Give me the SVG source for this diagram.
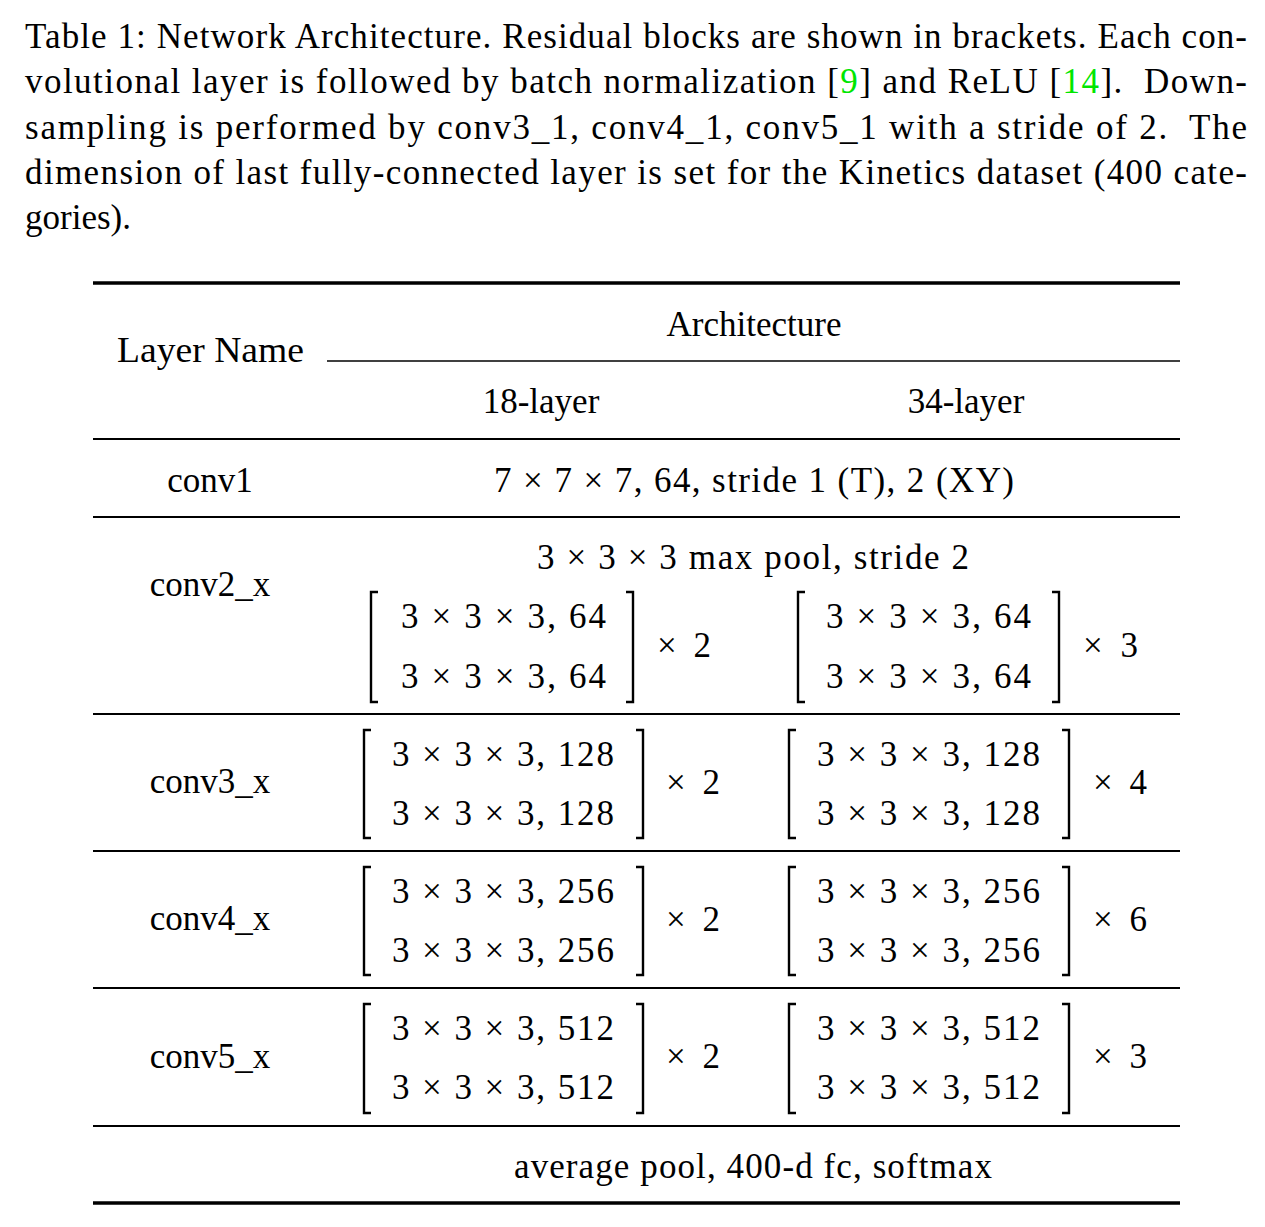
<svg xmlns="http://www.w3.org/2000/svg" width="1265" height="1227" viewBox="0 0 1265 1227">
<style>
text{font-family:"Liberation Serif","Times New Roman",serif;fill:#000;}
.cap{font-size:35px;}
.t{font-size:35px;}
.m{font-size:35px;}
.c{text-anchor:middle;}
.cite{fill:#00e600;}
.rule{stroke:#000;}
.br{fill:none;stroke:#000;stroke-width:2.4;}
</style>
<rect width="1265" height="1227" fill="#fff"/>
<g id="caption">
<text class="cap" x="25" y="48" textLength="1222" lengthAdjust="spacing">Table 1: Network Architecture. Residual blocks are shown in brackets. Each con-</text>
<text class="cap" x="25" y="93" textLength="1222" lengthAdjust="spacing">volutional layer is followed by batch normalization [<tspan class="cite">9</tspan>] and ReLU [<tspan class="cite">14</tspan>]. <tspan dx="10">Down-</tspan></text>
<text class="cap" x="25" y="139" textLength="1222" lengthAdjust="spacing">sampling is performed by conv3_1, conv4_1, conv5_1 with a stride of 2. <tspan dx="10">The</tspan></text>
<text class="cap" x="25" y="184" textLength="1222" lengthAdjust="spacing">dimension of last fully-connected layer is set for the Kinetics dataset (400 cate-</text>
<text class="cap" x="25" y="229">gories).</text>
</g>
<g id="rules">
<line class="rule" x1="93" y1="283" x2="1180" y2="283" stroke-width="3.5"/>
<line class="rule" x1="327" y1="361" x2="1180" y2="361" stroke-width="1.3"/>
<line class="rule" x1="93" y1="439" x2="1180" y2="439" stroke-width="2"/>
<line class="rule" x1="93" y1="517" x2="1180" y2="517" stroke-width="2"/>
<line class="rule" x1="93" y1="714" x2="1180" y2="714" stroke-width="2"/>
<line class="rule" x1="93" y1="851" x2="1180" y2="851" stroke-width="2"/>
<line class="rule" x1="93" y1="988" x2="1180" y2="988" stroke-width="2"/>
<line class="rule" x1="93" y1="1126" x2="1180" y2="1126" stroke-width="2"/>
<line class="rule" x1="93" y1="1203" x2="1180" y2="1203" stroke-width="3.5"/>
</g>
<g id="header">
<text class="t" x="117" y="362" textLength="187" lengthAdjust="spacingAndGlyphs">Layer Name</text>
<text class="t c" x="754" y="336">Architecture</text>
<text class="t c" x="541" y="413">18-layer</text>
<text class="t c" x="966" y="413">34-layer</text>
</g>
<g id="conv1">
<text class="t c" x="210" y="492">conv1</text>
<text class="m" x="494" y="492" textLength="520" lengthAdjust="spacing">7 × 7 × 7, 64, stride 1 (T), 2 (XY)</text>
</g>
<g id="conv2_x">
<text class="t c" x="210" y="596">conv2_x</text>
<text class="m" x="537" y="569" textLength="432" lengthAdjust="spacing">3 × 3 × 3 max pool, stride 2</text>
<path class="br" d="M378,592 H371 V702 H378 M626,592 H633 V702 H626"/>
<text class="m" x="401" y="628" textLength="205" lengthAdjust="spacing">3 × 3 × 3, 64</text>
<text class="m" x="401" y="688" textLength="205" lengthAdjust="spacing">3 × 3 × 3, 64</text>
<text class="m" x="657" y="657" textLength="54" lengthAdjust="spacing">× 2</text>
<path class="br" d="M805,592 H798 V702 H805 M1052,592 H1059 V702 H1052"/>
<text class="m" x="826" y="628" textLength="205" lengthAdjust="spacing">3 × 3 × 3, 64</text>
<text class="m" x="826" y="688" textLength="205" lengthAdjust="spacing">3 × 3 × 3, 64</text>
<text class="m" x="1083" y="657" textLength="55" lengthAdjust="spacing">× 3</text>
</g>
<g id="conv3_x">
<text class="t c" x="210" y="793">conv3_x</text>
<path class="br" d="M371,730 H364 V838 H371 M636,730 H643 V838 H636"/>
<text class="m" x="392" y="766" textLength="222" lengthAdjust="spacing">3 × 3 × 3, 128</text>
<text class="m" x="392" y="825" textLength="222" lengthAdjust="spacing">3 × 3 × 3, 128</text>
<text class="m" x="666" y="794" textLength="54" lengthAdjust="spacing">× 2</text>
<path class="br" d="M796,730 H789 V838 H796 M1062,730 H1069 V838 H1062"/>
<text class="m" x="817" y="766" textLength="223" lengthAdjust="spacing">3 × 3 × 3, 128</text>
<text class="m" x="817" y="825" textLength="223" lengthAdjust="spacing">3 × 3 × 3, 128</text>
<text class="m" x="1093" y="794" textLength="54" lengthAdjust="spacing">× 4</text>
</g>
<g id="conv4_x">
<text class="t c" x="210" y="930">conv4_x</text>
<path class="br" d="M371,867 H364 V975 H371 M636,867 H643 V975 H636"/>
<text class="m" x="392" y="903" textLength="222" lengthAdjust="spacing">3 × 3 × 3, 256</text>
<text class="m" x="392" y="962" textLength="222" lengthAdjust="spacing">3 × 3 × 3, 256</text>
<text class="m" x="666" y="931" textLength="54" lengthAdjust="spacing">× 2</text>
<path class="br" d="M796,867 H789 V975 H796 M1062,867 H1069 V975 H1062"/>
<text class="m" x="817" y="903" textLength="223" lengthAdjust="spacing">3 × 3 × 3, 256</text>
<text class="m" x="817" y="962" textLength="223" lengthAdjust="spacing">3 × 3 × 3, 256</text>
<text class="m" x="1093" y="931" textLength="54" lengthAdjust="spacing">× 6</text>
</g>
<g id="conv5_x">
<text class="t c" x="210" y="1068">conv5_x</text>
<path class="br" d="M371,1004 H364 V1113 H371 M636,1004 H643 V1113 H636"/>
<text class="m" x="392" y="1040" textLength="222" lengthAdjust="spacing">3 × 3 × 3, 512</text>
<text class="m" x="392" y="1099" textLength="222" lengthAdjust="spacing">3 × 3 × 3, 512</text>
<text class="m" x="666" y="1068" textLength="54" lengthAdjust="spacing">× 2</text>
<path class="br" d="M796,1004 H789 V1113 H796 M1062,1004 H1069 V1113 H1062"/>
<text class="m" x="817" y="1040" textLength="223" lengthAdjust="spacing">3 × 3 × 3, 512</text>
<text class="m" x="817" y="1099" textLength="223" lengthAdjust="spacing">3 × 3 × 3, 512</text>
<text class="m" x="1093" y="1068" textLength="54" lengthAdjust="spacing">× 3</text>
</g>
<g id="final">
<text class="m" x="514" y="1178" textLength="478" lengthAdjust="spacing">average pool, 400-d fc, softmax</text>
</g>
</svg>
